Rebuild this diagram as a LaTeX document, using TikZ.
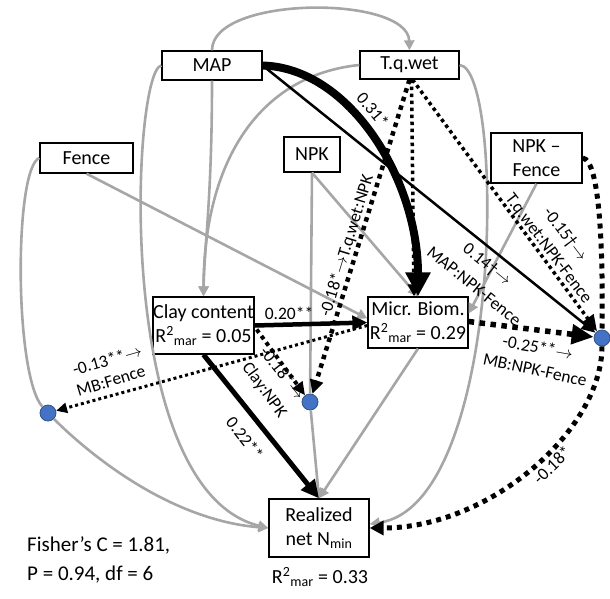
\documentclass[tikz,border=0pt]{standalone}
\usepackage{fontspec}
\setmainfont{Carlito}
\usetikzlibrary{arrows.meta,calc}

\definecolor{edgegrey}{HTML}{A6A6A6}
\definecolor{dotblue}{HTML}{4472C4}
\definecolor{dotrim}{HTML}{2F528F}

\newcommand{\Rmar}{R\textsuperscript{2}\textsubscript{mar}}

\begin{document}
\begin{tikzpicture}[x=1pt,y=-1pt,
  var/.style={draw=black, line width=1.3pt, fill=white, inner sep=0pt, align=center,
    font=\fontsize{20}{24}\selectfont},
  ixdot/.style={circle, fill=dotblue, draw=dotrim, line width=0.8pt, minimum size=16pt, inner sep=0pt},
  lbl/.style={font=\fontsize{17.5}{20}\selectfont, inner sep=0pt},
  greyline/.style={draw=edgegrey, line width=2.6pt},
  greyedge/.style={greyline, -{Triangle[width=10pt,length=10pt]}},
  dotln/.style={line width=#1, dash pattern=on #1 off #1}]

\useasboundingbox (0,0) rectangle (610,598);

% variables
\node[var, minimum width=100pt, minimum height=29pt] (map) at (212,65.5) {MAP};
\node[var, minimum width=99pt, minimum height=28pt] (tq) at (409.5,65) {T.q.wet};
\node[var, minimum width=93pt, minimum height=30pt] (fence) at (86.5,158) {Fence};
\node[var, minimum width=56pt, minimum height=35pt] (npk) at (312,154.5) {NPK};
\node[var, minimum width=91pt, minimum height=50pt] (npkf) at (536.5,158) {NPK –\\Fence};
\node[var, minimum width=101pt, minimum height=57pt] (clay) at (203.5,325.5) {Clay content\\\Rmar{} = 0.05};
\node[var, minimum width=100pt, minimum height=51pt] (mb) at (418,322.5) {Micr. Biom.\\\Rmar{} = 0.29};
\node[var, minimum width=100pt, minimum height=58pt] (real) at (319,528) {Realized\\net N\textsubscript{min}};

% interaction points
\node[ixdot] (ldot) at (48,413) {};
\node[ixdot] (mdot) at (310,402) {};
\node[ixdot] (rdot) at (602,338) {};

% non-significant paths
\draw[greyedge] (map.north) .. controls (212,-5) and (408,-5) .. (tq.north);
\draw[greyedge] (map.west) .. controls (132,70) and (112,490) .. (real.west);
\draw[greyline] (fence.west) .. controls (14,168) and (14,375) .. (ldot);
\draw[greyedge] (ldot) .. controls (90,455) and (170,520) .. (real.west);
\draw[greyedge] (map.south) .. controls (212,200) and (204,250) .. (clay.north);
\draw[greyedge] (tq.west) .. controls (260,75) and (204,160) .. (clay.north);
\draw[greyedge] (tq.east) .. controls (505,68) and (505,505) .. ($(real.east)+(0,-4)$);
\draw[greyedge] (fence.south) -- ($(mb.west)+(0,-4)$);
\draw[greyline] (npk.south) -- (mdot);
\draw[greyedge] (mdot) -- (real.north);
\draw[greyedge] (npk.south) -- (mb.north);
\draw[greyedge] (npkf.south) -- ($(mb.east)+(0,-9)$);
\draw[greyedge] (mb.south) -- (real.north);

% negative / interaction paths
\draw[dotln=3.5pt, -{Triangle[width=12pt,length=12pt]}] ($(tq.south)+(2,0)$) -- ($(mb.north)+(-4,0)$);
\draw[dotln=4.5pt, -{Triangle[width=13pt,length=14pt]}] (tq.south) -- (mdot);
\draw[dotln=3.5pt, -{Triangle[width=14pt,length=16pt]}] ($(tq.south)+(3,0)$) -- (rdot);
\draw[dotln=5pt] (npkf.east) .. controls (600,160) and (603,250) .. (rdot);
\draw[dotln=5pt, -{Triangle[width=14pt,length=14pt]}] (rdot) .. controls (602,430) and (490,528) .. (real.east);
\draw[dotln=5.5pt, -{Triangle[width=19pt,length=22pt]}] ($(mb.east)+(0,-1)$) -- (rdot);
\draw[dotln=3pt, -{Triangle[width=10pt,length=11pt]}] ($(mb.west)+(0,3)$) -- (ldot);
\draw[dotln=4pt, -{Triangle[width=12pt,length=13pt]}] ($(clay.east)+(2,4)$) -- (mdot);

% positive paths
\draw[line width=8pt, -{Triangle[width=24pt,length=24pt]}] (map.east) .. controls (350,68) and (418,180) .. (mb.north);
\draw[line width=2.5pt, -{Triangle[width=12pt,length=14pt]}] (map.east) -- (rdot);
\draw[line width=4.5pt, -{Triangle[width=14pt,length=15pt]}] (clay.east) -- (mb.west);
\draw[line width=5pt, -{Triangle[width=17pt,length=18pt]}] (clay.south) -- (real.north);

% path coefficients
\node[lbl, rotate=-50] (c031) at (373,110) {0.31*};
\node[lbl, rotate=73] (c018tq) at (347,246) {-0.18*$\rightarrow$T.q.wet:NPK};
\node[lbl, rotate=-53] (c015) at (565,235) {-0.15\dag$\rightarrow$};
\node[lbl, rotate=-53] (ctqnf) at (548,249) {T.q.wet:NPK-Fence};
\node[lbl, rotate=-39] (c014) at (487,265) {0.14\dag$\rightarrow$};
\node[lbl, rotate=-39] (cmapnf) at (474,286) {MAP:NPK-Fence};
\node[lbl, rotate=-10] (c025) at (538,347) {-0.25**$\rightarrow$};
\node[lbl, rotate=-12] (cmbnf) at (535,370) {MB:NPK-Fence};
\node[lbl, rotate=44] (c018r) at (552,465) {-0.18*};
\node[lbl, rotate=16] (c013) at (107,360) {-0.13**$\rightarrow$};
\node[lbl, rotate=17] (cmbf) at (111,381) {MB:Fence};
\node[lbl] (c020) at (289,313) {0.20**};
\node[lbl, rotate=-52] (c018c) at (283,373) {-0.18*$\rightarrow$};
\node[lbl, rotate=-54] (cclaynpk) at (264,390) {Clay:NPK};
\node[lbl, rotate=-52] (c022) at (245,438) {0.22**};

% model statistics
\node[font=\fontsize{20}{24}\selectfont, inner sep=0pt] (r2real) at (320,577) {\Rmar{} = 0.33};
\node[anchor=west, align=left, font=\fontsize{21}{29}\selectfont, inner sep=0pt] (fisher) at (27,560)
  {Fisher’s C = 1.81,\\P = 0.94, df = 6};
\end{tikzpicture}
\end{document}
